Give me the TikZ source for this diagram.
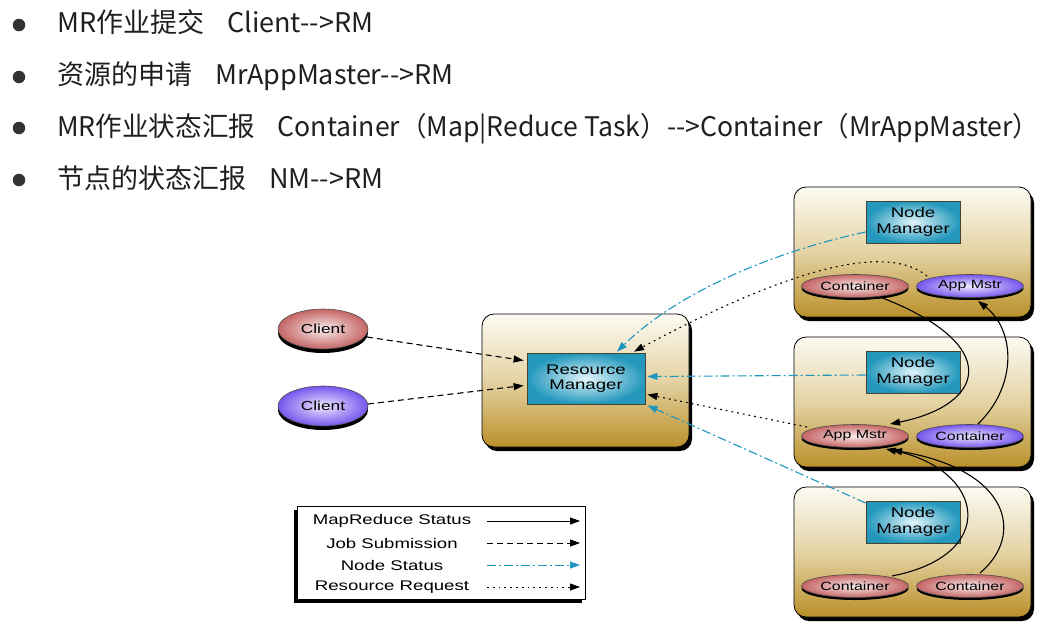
\documentclass[tikz,border=0pt]{standalone}
\usepackage{fontspec}
\setmainfont{Liberation Sans}
\newfontfamily\cjk{Noto Sans CJK SC}
\usetikzlibrary{arrows.meta,shapes.geometric,shadows,calc}
\definecolor{tealline}{HTML}{1E96BE}
\definecolor{cream}{HTML}{FCFAF2}
\definecolor{goldmid}{HTML}{E4D3A4}
\definecolor{gold}{HTML}{BA902A}
\definecolor{tealin}{HTML}{E2F5FB}
\definecolor{tealout}{HTML}{2398BC}
\definecolor{pinkin}{HTML}{FAEDED}
\definecolor{pinkout}{HTML}{C56565}
\definecolor{purpin}{HTML}{EEE9FF}
\definecolor{purpout}{HTML}{7656EE}
\newcommand\sx[1]{\scalebox{1.33}[1]{#1}}
\begin{document}
\begin{tikzpicture}[x=1pt,y=-1pt,
  bulletdot/.style={circle, fill=black!80, minimum size=12.5pt, inner sep=0pt},
  btext/.style={anchor=base west, inner sep=0pt, font=\cjk\fontsize{27}{29}\selectfont, text=black!88},
  bigbox/.style={draw=black, line width=0.8pt, rounded corners=12pt,
    top color=cream, bottom color=gold, middle color=goldmid,
    drop shadow={shadow xshift=3pt, shadow yshift=-4pt, opacity=1, fill=black}},
  mgr/.style={draw=black!65!olive, line width=0.8pt, inner color=tealin, outer color=tealout,
    align=center, inner sep=0pt, font=\fontsize{14}{15.5}\selectfont},
  ell/.style={ellipse, draw=black!70, line width=0.6pt, inner sep=0pt,
    minimum width=107pt, minimum height=23pt, font=\fontsize{12}{12}\selectfont,
    drop shadow={shadow xshift=0pt, shadow yshift=-2.5pt, opacity=1, fill=black}},
  pinkell/.style={ell, inner color=pinkin, outer color=pinkout},
  purpell/.style={ell, inner color=purpin, outer color=purpout},
  tip/.style={-{Triangle[length=10pt,width=7pt]}},
  mrstat/.style={tip, line width=1.1pt, black},
  jobsub/.style={tip, line width=1.1pt, black, dash pattern=on 6pt off 4pt},
  nodestat/.style={-{Triangle[length=10pt,width=7pt,fill=tealline]}, line width=1.1pt, tealline, dash pattern=on 9pt off 3pt on 2pt off 3pt},
  resreq/.style={tip, line width=1.1pt, black, dash pattern=on 1.8pt off 4pt},
  legtext/.style={font=\fontsize{14}{14}\selectfont, inner sep=0pt}
]
\useasboundingbox (0,0) rectangle (1055,630);

% bullet list
\node[bulletdot] (d1) at (19,25) {};
\node[bulletdot] (d2) at (19,77) {};
\node[bulletdot] (d3) at (19,128) {};
\node[bulletdot] (d4) at (19,180) {};
\node[btext] (t1) at (57,32.5) {MR作业提交\hspace{0.85em}Client-{}->RM};
\node[btext] (t2) at (57,84.5) {资源的申请\hspace{0.85em}MrAppMaster-{}->RM};
\node[btext] (t3) at (57,136) {\scalebox{0.985}[1]{MR作业状态汇报\hspace{0.85em}Container（Map|Reduce Task）-{}->Container（MrAppMaster）}};
\node[btext] (t4) at (57,188) {节点的状态汇报\hspace{0.85em}NM-{}->RM};

% resource manager
\node[bigbox, minimum width=207pt, minimum height=133pt] (rmb) at (585.5,380.5) {};
\node[mgr, minimum width=118pt, minimum height=51pt] (rmi) at (586,378.5) {\sx{Resource}\\\sx{Manager}};

% clients
\node[pinkell, minimum width=90pt, minimum height=40pt, font=\fontsize{13}{14}\selectfont,
  drop shadow={shadow xshift=0pt, shadow yshift=-4pt, opacity=1, fill=black}] (c1) at (323,329) {\sx{Client}};
\node[purpell, minimum width=90pt, minimum height=40pt, font=\fontsize{13}{14}\selectfont,
  drop shadow={shadow xshift=0pt, shadow yshift=-4pt, opacity=1, fill=black}] (c2) at (323,406) {\sx{Client}};

% node managers
\node[bigbox, minimum width=237pt, minimum height=130pt] (nb1) at (912.5,252) {};
\node[bigbox, minimum width=237pt, minimum height=130pt] (nb2) at (912.5,402) {};
\node[bigbox, minimum width=237pt, minimum height=130pt] (nb3) at (912.5,552) {};
\node[mgr, minimum width=94pt, minimum height=42pt] (nm1) at (913,222) {\sx{Node}\\\sx{Manager}};
\node[mgr, minimum width=94pt, minimum height=42pt] (nm2) at (913,372) {\sx{Node}\\\sx{Manager}};
\node[mgr, minimum width=94pt, minimum height=42pt] (nm3) at (913,522) {\sx{Node}\\\sx{Manager}};

\node[pinkell] (cn1) at (855,286) {\sx{Container}};
\node[purpell] (am1) at (970,286) {\sx{App Mstr}};
\node[pinkell] (am2) at (855,436) {\sx{App Mstr}};
\node[purpell] (cn2) at (970,436) {\sx{Container}};
\node[pinkell] (cn3a) at (855,586) {\sx{Container}};
\node[pinkell] (cn3b) at (970,586) {\sx{Container}};

% job submission
\draw[jobsub] ($(c1)+(44,8)$) -- ($(rmi.west)+(-3,-18)$);
\draw[jobsub] ($(c2)+(45,-2)$) -- ($(rmi.west)+(-3,7)$);

% node status
\draw[nodestat] ($(nm1.west)+(0,10)$) .. controls (780,250) and (680,290) .. ($(rmi.north)+(31,-1)$);
\draw[nodestat] ($(nm2.west)+(0,3)$) -- ($(rmi.east)+(2,-2)$);
\draw[nodestat] ($(nm3.west)+(0,-19)$) -- ($(rmi.south east)+(2,1)$);

% resource request
\draw[resreq] ($(am1)+(-43,-10)$) .. controls (895,250) and (820,252) .. ($(rmi.north)+(48,-1)$);
\draw[resreq] ($(am2)+(-48,-9)$) -- ($(rmi.east)+(2,16)$);

% mapreduce status
\draw[mrstat] ($(cn1)+(25,11)$) .. controls (1005,345) and (985,405) .. ($(am2)+(35,-12)$);
\draw[mrstat] ($(cn2)+(8,-12)$) .. controls (1018,385) and (1015,330) .. ($(am1)+(8,15)$);
\draw[mrstat] ($(cn3a)+(37,-10)$) .. controls (1000,555) and (985,470) .. ($(am2)+(31,13)$);
\draw[mrstat] ($(cn3b)+(10,-13)$) .. controls (1025,535) and (1010,470) .. ($(am2)+(37,14)$);

% legend
\node[draw=black, line width=0.8pt, fill=white, minimum width=288pt, minimum height=93pt,
  drop shadow={shadow xshift=-3pt, shadow yshift=-3pt, opacity=1, fill=black}] (leg) at (441,553) {};
\node[legtext] (lt1) at (392,521) {\sx{MapReduce Status}};
\node[legtext] (lt2) at (392,543) {\sx{Job Submission}};
\node[legtext] (lt3) at (392,565) {\sx{Node Status}};
\node[legtext] (lt4) at (392,587) {\sx{Resource Request}};
\coordinate (ls1) at (487,521); \coordinate (le1) at (580,521);
\coordinate (ls2) at (487,543); \coordinate (le2) at (580,543);
\coordinate (ls3) at (487,565); \coordinate (le3) at (580,565);
\coordinate (ls4) at (487,587); \coordinate (le4) at (580,587);
\draw[mrstat, line width=0.8pt] (ls1) -- (le1);
\draw[jobsub, line width=0.8pt] (ls2) -- (le2);
\draw[nodestat, line width=0.8pt] (ls3) -- (le3);
\draw[resreq, line width=0.8pt] (ls4) -- (le4);
\end{tikzpicture}
\end{document}
